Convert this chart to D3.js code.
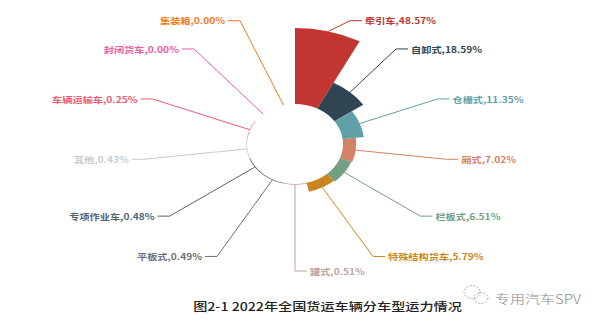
<!DOCTYPE html>
<html><head><meta charset="utf-8">
<script src="https://cdn.jsdelivr.net/npm/d3@7"></script>
<style>
html,body{margin:0;padding:0;background:#fff;}
svg{display:block;}
text{font-family:"Noto Sans CJK SC","Noto Sans",sans-serif;}
</style></head>
<body>
<svg id="chart" width="600" height="324"></svg>
<script>
const categories = ["牵引车","自卸式","仓栅式","厢式","栏板式","特殊结构货车","罐式","平板式","专项作业车","其他","车辆运输车","封闭货车","集装箱"];
const values = [48.57,18.59,11.35,7.02,6.51,5.79,0.51,0.49,0.48,0.43,0.25,0.00,0.00];
const colors = ["#c23531","#2f4554","#61a0a8","#d48265","#749f83","#ca8622","#bda29a","#6e7074","#546570","#c4ccd3","#f05b72","#ef5b9c","#f47920"];
const titleText = "图2-1 2022年全国货运车辆分车型运力情况";
const watermarkText = "专用汽车SPV";

const W = 600, H = 324;
const cx = 295, cy = 144, sx = 1.2;
const r0 = 40, rMax = 116;
const labelR = 127, len2 = 12, gap = 3;

const svg = d3.select("#chart");
svg.append("rect").attr("width", W).attr("height", H).attr("fill", "#fff");

const data = categories.map((c, i) => ({name: c, value: values[i], color: colors[i]}));
const pie = d3.pie().value(() => 1).sort(null);
const arcs = pie(data);
const rScale = d3.scaleLinear().domain([0, d3.max(values)]).range([r0, rMax]);

const g = svg.append("g").attr("transform", `translate(${cx},${cy}) scale(${sx},1)`);
g.selectAll("path").data(arcs).join("path")
  .attr("d", d => d3.arc().innerRadius(r0).outerRadius(rScale(d.data.value))(d))
  .attr("fill", d => d.data.color);

// labels
const lg = svg.append("g");
arcs.forEach(d => {
  const mid = (d.startAngle + d.endAngle) / 2;
  const s = Math.sin(mid), c = Math.cos(mid);
  const ro = rScale(d.data.value);
  const x1 = cx + ro * s * sx, y1 = cy - ro * c;
  let x2 = cx + labelR * s * sx;
  const y2 = cy - labelR * c;
  const dir = s < -1e-9 ? -1 : 1;
  // keep labels near the top/bottom clear of the rose
  if (Math.abs(s) > 0.05 && y2 < cy - 100 && Math.abs(x2 - cx) < 55) x2 = cx + dir * 55;
  if (Math.abs(s) > 0.05 && y2 > cy + 100 && Math.abs(x2 - cx) < 78) x2 = cx + dir * 78;
  const x3 = x2 + dir * len2;
  lg.append("polyline")
    .attr("points", [[x1, y1], [x2, y2], [x3, y2]].map(p => p.join(",")).join(" "))
    .attr("fill", "none").attr("stroke", d.data.color).attr("stroke-width", 1);
  lg.append("text")
    .attr("transform", `translate(${x3 + dir * gap},${y2}) scale(${sx},1)`)
    .attr("text-anchor", dir < 0 ? "end" : "start")
    .attr("dominant-baseline", "central")
    .attr("font-size", 8.5).attr("font-weight", "bold")
    .attr("fill", d.data.color)
    .text(`${d.data.name},${d3.format(".2f")(d.data.value)}%`);
});

// title
svg.append("text")
  .attr("transform", `translate(327.5,311) scale(${sx},1)`)
  .attr("text-anchor", "middle")
  .attr("font-size", 11.8).attr("fill", "#222").attr("font-weight", 500)
  .text(titleText);

// watermark
const wm = svg.append("g").attr("fill", "none").attr("stroke", "#aaa").attr("stroke-width", 1);
wm.append("ellipse").attr("cx", 472).attr("cy", 292).attr("rx", 8).attr("ry", 6.5).attr("stroke-dasharray", "2,1.5");
wm.append("ellipse").attr("cx", 481).attr("cy", 298).attr("rx", 7).attr("ry", 5.5).attr("stroke-dasharray", "2,1.5");
svg.append("text")
  .attr("transform", `translate(495,304) scale(${sx},1)`)
  .attr("font-size", 12.5).attr("fill", "#8a8a8a").attr("font-weight", 300)
  .text(watermarkText);
</script>
</body></html>
